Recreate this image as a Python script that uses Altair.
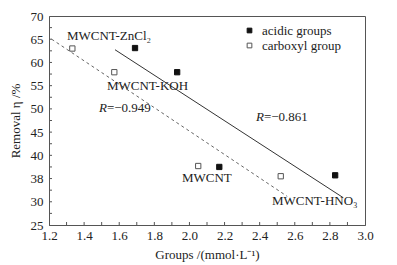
import altair as alt
import pandas as pd

# --- data ---
acid_x = [1.69, 1.93, 2.17, 2.83]
acid_y = [63.1, 57.9, 37.5, 35.7]
carb_x = [1.333, 1.572, 2.05, 2.52]
carb_y = [63.0, 57.9, 37.7, 35.5]
series_names = ["acidic groups", "carboxyl group"]
fit_extent_acid = [1.576, 2.876]
fit_extent_carb = [1.215, 2.557]

x_ticks = [1.2, 1.4, 1.6, 1.8, 2.0, 2.2, 2.4, 2.6, 2.8, 3.0]
x_minor = [1.3, 1.4, 1.5, 1.6, 1.7, 1.8, 1.9, 2.0, 2.1, 2.2, 2.3, 2.4, 2.5, 2.6, 2.7, 2.8, 2.9]
y_ticks = [25, 30, 35, 40, 45, 50, 55, 60, 65, 70]
y_tick_labels = ["25", "30", "38", "40", "45", "50", "55", "60", "65", "70"]
y_minor = [27.5, 30, 32.5, 35, 37.5, 40, 42.5, 45, 47.5, 50, 52.5, 55, 57.5, 60, 62.5, 65, 67.5]

label_text = ["MWCNT-ZnCl₂", "MWCNT-KOH", "MWCNT", "MWCNT-HNO₃"]
label_x = [1.302, 1.530, 1.957, 2.470]
label_y = [65.7, 54.9, 35.1, 30.1]

r_values = ["=−0.949", "=−0.861"]
r_x = [1.530, 2.424]
r_y = [50.2, 48.2]

FONT = "Liberation Serif"

pts = pd.DataFrame({
    "x": acid_x + carb_x,
    "y": acid_y + carb_y,
    "g": [series_names[0]] * 4 + [series_names[1]] * 4,
})
acid_df = pts[pts.g == series_names[0]]
carb_df = pts[pts.g == series_names[1]]

xs = alt.Scale(domain=[1.2, 3.0], nice=False, zero=False)
ys = alt.Scale(domain=[25, 70], nice=False, zero=False)

label_map = "{" + ",".join(f"'{v}':'{l}'" for v, l in zip(y_ticks, y_tick_labels)) + "}"

xaxis = alt.Axis(values=x_ticks, format=".1f", title="Groups /(mmol·L⁻¹)",
                 ticks=False, grid=False, labelFont=FONT, labelFontSize=13,
                 labelColor="#222", titleFont=FONT, titleFontSize=13,
                 titleFontWeight="normal", titleColor="#222", labelPadding=4,
                 titlePadding=6, domainColor="#555", labelFlush=False,
                 labelOverlap=False, labelBound=False)
yaxis = alt.Axis(values=y_ticks, labelExpr=label_map + "[datum.value]",
                 title="Removal η /%", ticks=False, grid=False,
                 labelFont=FONT, labelFontSize=13, labelColor="#222",
                 titleFont=FONT, titleFontSize=13, titleFontWeight="normal",
                 titleColor="#222", labelPadding=6, titlePadding=8,
                 domainColor="#555", labelFlush=False,
                 labelOverlap=False, labelBound=False)


def X(field="x"):
    return alt.X(f"{field}:Q", scale=xs, axis=xaxis, title="Groups /(mmol·L⁻¹)")


def Y(field="y"):
    return alt.Y(f"{field}:Q", scale=ys, axis=yaxis, title="Removal η /%")


points = alt.Chart(pts).mark_point(shape="square", size=28, opacity=1, strokeWidth=1).encode(
    x=X(), y=Y(),
    fill=alt.Fill("g:N", scale=alt.Scale(domain=series_names, range=["#111", "white"]),
                  legend=alt.Legend(title=None, orient="none", legendX=194, legendY=8,
                                    labelFont=FONT, labelFontSize=13, labelColor="#222",
                                    symbolType="square", symbolSize=22,
                                    symbolStrokeColor="#444", symbolStrokeWidth=1,
                                    rowPadding=1, labelOffset=6, padding=0)),
    stroke=alt.Stroke("g:N", scale=alt.Scale(domain=series_names, range=["#111", "#555"]),
                      legend=None),
)

fit_acid = alt.Chart(acid_df).transform_regression(
    "x", "y", extent=fit_extent_acid
).mark_line(color="#333", strokeWidth=1).encode(x=X(), y=Y())

fit_carb = alt.Chart(carb_df).transform_regression(
    "x", "y", extent=fit_extent_carb
).mark_line(color="#666", strokeWidth=1, strokeDash=[3, 3]).encode(x=X(), y=Y())

labels_df = pd.DataFrame({"t": label_text, "x": label_x, "y": label_y})
labels = alt.Chart(labels_df).mark_text(
    align="left", baseline="middle", font=FONT, fontSize=13, color="#222"
).encode(x=X(), y=Y(), text="t:N")

r_df = pd.DataFrame({"t": r_values, "x": r_x, "y": r_y})
r_italic = alt.Chart(r_df).mark_text(
    align="right", baseline="middle", font=FONT, fontSize=13, fontStyle="italic",
    color="#222", text="R"
).encode(x=X(), y=Y())
r_rest = alt.Chart(r_df).mark_text(
    align="left", baseline="middle", font=FONT, fontSize=13, color="#222"
).encode(x=X(), y=Y(), text="t:N")

xt = alt.Chart(pd.DataFrame({"x": x_minor})).mark_rule(color="#555", strokeWidth=1).encode(
    x=X(), y=alt.value(209), y2=alt.value(206))
yt = alt.Chart(pd.DataFrame({"y": y_minor})).mark_rule(color="#555", strokeWidth=1).encode(
    y=Y(), x=alt.value(0), x2=alt.value(3))

chart = alt.layer(points, xt, yt, fit_carb, fit_acid, labels, r_italic, r_rest).properties(
    width=316, height=209,
    autosize=alt.AutoSizeParams(type="none"),
    padding={"left": 49, "top": 16, "right": 32, "bottom": 40},
    background="white",
).configure_view(stroke="#555", strokeWidth=1)

chart.save("out.html", embed_options={"renderer": "svg", "actions": False})
